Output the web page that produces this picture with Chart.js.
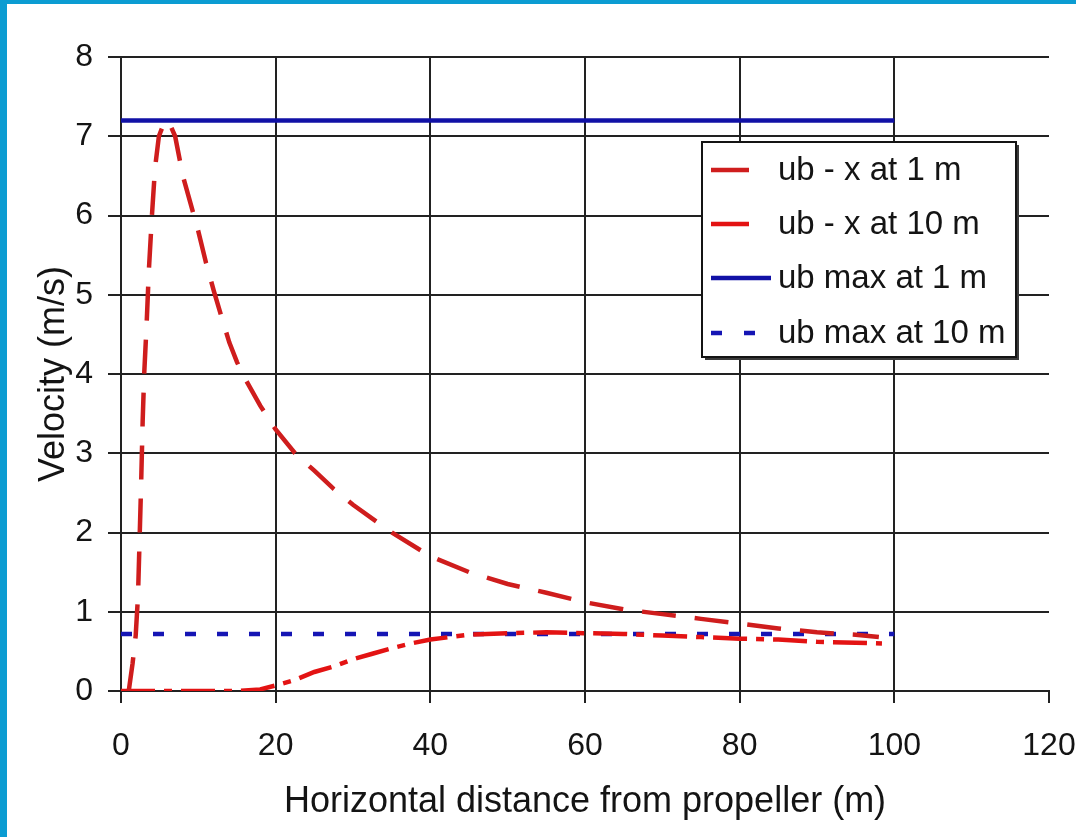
<!DOCTYPE html>
<html>
<head>
<meta charset="utf-8">
<title>Bed velocity behind propeller</title>
<script src="https://cdn.jsdelivr.net/npm/chart.js@4/dist/chart.umd.min.js"></script>
<style>
  html, body { margin: 0; padding: 0; background: #ffffff; }
  #wrap { position: relative; width: 1076px; height: 837px; overflow: hidden; background: #ffffff; }
  #wrap canvas { position: absolute; left: 0; top: 0; }
  .edge { position: absolute; background: #0b9cd2; }
  #edgeTop { left: 0; top: 0; width: 1076px; height: 4px; }
  #edgeLeft { left: 0; top: 0; width: 7px; height: 837px; }
</style>
</head>
<body>
<div id="wrap">
  <canvas id="chart" width="1076" height="837"></canvas>
  <div class="edge" id="edgeTop"></div>
  <div class="edge" id="edgeLeft"></div>
</div>
<script>
// Bed velocity ub against distance x from the propeller, at 1 m and 10 m
const distance1m = [1.0, 1.5, 1.9, 2.2, 2.4, 2.6, 2.8, 3.0, 3.3, 3.6, 4.0, 4.4, 4.9, 5.5, 6.1,
  7.0, 8.0, 9.0, 10.0, 11.0, 12.0, 13.0, 14.0, 15.0, 16.0, 18.0, 20.0, 22.5, 25.0, 27.5, 30.0,
  35.0, 40.0, 45.0, 50.0, 55.0, 60.0, 65.0, 70.0, 75.0, 80.0, 85.0, 90.0, 95.0, 98.0];
const velocity1m = [0.0, 0.35, 0.7, 1.2, 1.9, 2.6, 3.4, 4.0, 4.6, 5.3, 6.0, 6.6, 7.0, 7.15, 7.2,
  7.0, 6.5, 6.15, 5.8, 5.4, 5.05, 4.72, 4.4, 4.15, 3.95, 3.6, 3.3, 3.0, 2.78, 2.55, 2.35,
  2.0, 1.7, 1.5, 1.35, 1.24, 1.12, 1.03, 0.97, 0.91, 0.85, 0.79, 0.74, 0.71, 0.68];

const distance10m = [0, 5, 10, 15, 18, 20, 22.5, 25, 27.5, 30, 32.5, 35, 37.5, 40, 42.5, 45,
  50, 55, 60, 65, 70, 75, 80, 85, 90, 95, 98.4];
const velocity10m = [0.0, 0.0, 0.0, 0.0, 0.02, 0.07, 0.14, 0.24, 0.31, 0.4, 0.47, 0.54, 0.6, 0.65, 0.68, 0.71,
  0.73, 0.74, 0.73, 0.72, 0.7, 0.68, 0.66, 0.65, 0.62, 0.61, 0.6];

// Maximum bed velocity, drawn across the studied range
const maxRange = [0, 100];
const ubMax1m = 7.2;
const ubMax10m = 0.72;

const seriesLabels = ['ub - x at 1 m', 'ub - x at 10 m', 'ub max at 1 m', 'ub max at 10 m'];

const xMin = 0, xMax = 120, xStep = 20;
const yMin = 0, yMax = 8, yStep = 1;

const FONT = "'Liberation Sans', Arial, Helvetica, sans-serif";
const INK = '#141414';
const GRID = '#222222';

const toPoints = (xs, ys) => xs.map((x, i) => ({ x: x, y: ys[i] }));
const flat = (xs, v) => xs.map(x => ({ x: x, y: v }));

// Boxed legend inside the plot, with a drop shadow
const boxLegend = {
  id: 'boxLegend',
  afterDraw(chart, args, opts) {
    const ctx = chart.ctx;
    ctx.save();
    ctx.fillStyle = '#3a3a3a';
    ctx.fillRect(opts.left + 3, opts.top + 3, opts.width, opts.height);
    ctx.fillStyle = '#ffffff';
    ctx.fillRect(opts.left, opts.top, opts.width, opts.height);
    ctx.strokeStyle = INK;
    ctx.lineWidth = 2;
    ctx.strokeRect(opts.left, opts.top, opts.width, opts.height);
    chart.data.datasets.forEach((ds, i) => {
      const y = opts.rowY[i];
      const s = opts.samples[i];
      ctx.strokeStyle = ds.borderColor;
      ctx.lineWidth = ds.borderWidth;
      ctx.lineCap = 'butt';
      ctx.setLineDash(s.dash);
      ctx.beginPath();
      ctx.moveTo(opts.sampleX, y);
      ctx.lineTo(opts.sampleX + s.length, y);
      ctx.stroke();
      ctx.setLineDash([]);
      ctx.fillStyle = INK;
      ctx.font = opts.font;
      ctx.textBaseline = 'middle';
      ctx.textAlign = 'left';
      ctx.fillText(ds.label, opts.textX, y + 1);
    });
    ctx.restore();
  }
};

new Chart(document.getElementById('chart'), {
  type: 'scatter',
  data: {
    datasets: [
      {
        label: seriesLabels[0],
        data: toPoints(distance1m, velocity1m),
        showLine: true,
        borderColor: '#cf1d1d',
        borderWidth: 4.5,
        borderDash: [34, 19],
        pointRadius: 0,
        order: 1
      },
      {
        label: seriesLabels[1],
        data: toPoints(distance10m, velocity10m),
        showLine: true,
        borderColor: '#e31313',
        borderWidth: 4.5,
        borderDash: [34, 9, 8, 9],
        pointRadius: 0,
        order: 2
      },
      {
        label: seriesLabels[2],
        data: flat(maxRange, ubMax1m),
        showLine: true,
        borderColor: '#1111a6',
        borderWidth: 4.5,
        pointRadius: 0,
        order: 3
      },
      {
        label: seriesLabels[3],
        data: flat(maxRange, ubMax10m),
        showLine: true,
        borderColor: '#1515b4',
        borderWidth: 4.5,
        borderDash: [11, 21],
        pointRadius: 0,
        order: 4
      }
    ]
  },
  options: {
    responsive: false,
    animation: false,
    devicePixelRatio: 1,
    layout: { padding: { top: 57, right: 27, bottom: 0, left: 0 } },
    plugins: {
      legend: { display: false },
      tooltip: { enabled: false },
      boxLegend: {
        left: 702, top: 142, width: 314, height: 215,
        rowY: [170, 224, 278, 333],
        sampleX: 711,
        textX: 778,
        samples: [
          { length: 38, dash: [] },
          { length: 38, dash: [] },
          { length: 60, dash: [] },
          { length: 45, dash: [11, 22] }
        ],
        font: '33px ' + FONT
      }
    },
    scales: {
      x: {
        type: 'linear',
        min: xMin,
        max: xMax,
        ticks: { stepSize: xStep, color: INK, font: { family: FONT, size: 32 }, padding: 24, maxRotation: 0 },
        grid: {
          color: c => (c.tick && c.tick.value === xMax ? 'rgba(0,0,0,0)' : GRID),
          tickColor: GRID,
          lineWidth: 2,
          tickLength: 12
        },
        border: { display: true, color: GRID, width: 2 },
        title: {
          display: true,
          text: 'Horizontal distance from propeller (m)',
          color: INK,
          font: { family: FONT, size: 36 },
          padding: { top: 0, bottom: 13 }
        },
        afterFit: s => { s.height = 146; s.paddingLeft = 0; s.paddingRight = 0; }
      },
      y: {
        type: 'linear',
        min: yMin,
        max: yMax,
        ticks: { stepSize: yStep, color: INK, font: { family: FONT, size: 32 }, padding: 15 },
        grid: { color: GRID, tickColor: GRID, lineWidth: 2, tickLength: 13 },
        border: { display: true, color: GRID, width: 2 },
        title: {
          display: true,
          text: 'Velocity (m/s)',
          color: INK,
          font: { family: FONT, size: 36 },
          padding: { top: 32, bottom: 0 }
        },
        afterFit: s => { s.width = 121; s.paddingTop = 0; s.paddingBottom = 0; }
      }
    }
  },
  plugins: [boxLegend]
});
</script>
</body>
</html>
